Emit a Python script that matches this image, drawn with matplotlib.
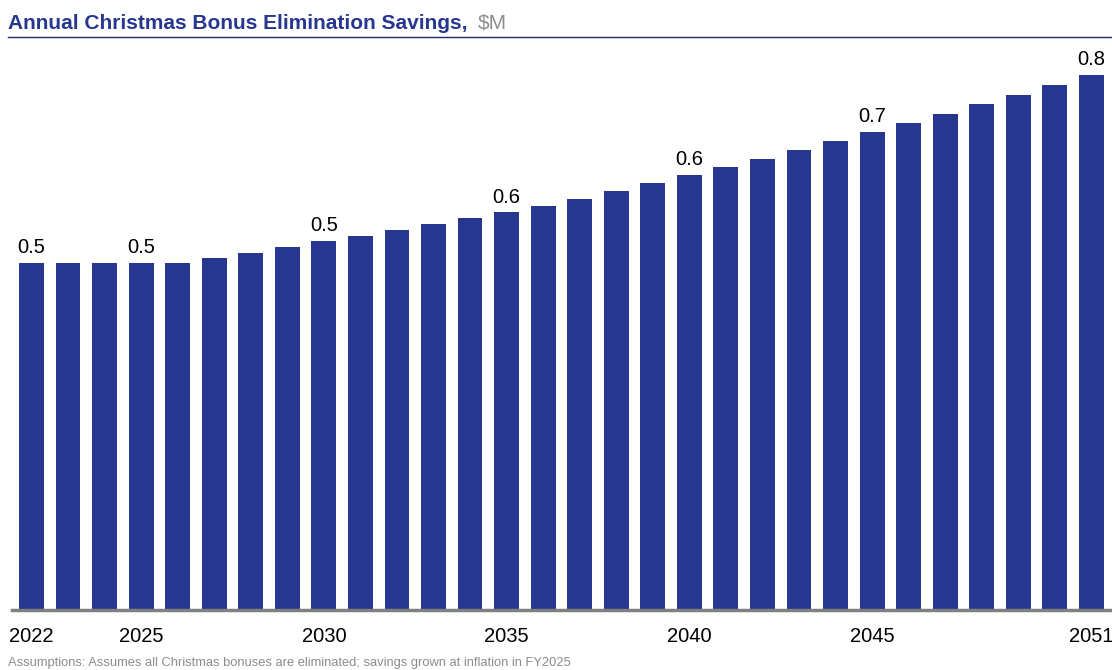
import numpy as np
import matplotlib
matplotlib.use('Agg')
import matplotlib.pyplot as plt
from matplotlib.lines import Line2D

plt.rcParams['font.family'] = ['Liberation Sans', 'DejaVu Sans']

years = list(range(2022, 2052))
savings = [0.500, 0.500, 0.500, 0.500, 0.500, 0.507, 0.514, 0.523, 0.532, 0.539,
           0.548, 0.556, 0.565, 0.573, 0.582, 0.592, 0.604, 0.615, 0.627, 0.638,
           0.650, 0.663, 0.676, 0.689, 0.702, 0.715, 0.729, 0.742, 0.756, 0.771]
label_years = [2022, 2025, 2030, 2035, 2040, 2045, 2051]

BLUE = '#27368F'

fig = plt.figure(figsize=(11.12, 6.70), dpi=100)
ax = fig.add_axes([12/1112, 60/670, 1098/1112, 565/670])

x = np.arange(len(years))
ax.bar(x, savings, width=0.68, color=BLUE, zorder=2)
ax.set_xlim(-0.534, 29.51)
ax.set_ylim(0, 565/694)

for yr in label_years:
    i = years.index(yr)
    ax.text(i, savings[i] + 0.008, "%.1f" % savings[i], ha='center', va='bottom',
            fontsize=14.5, color='black')

ax.set_xticks([years.index(y) for y in label_years])
ax.set_xticklabels([str(y) for y in label_years], fontsize=14.5)
ax.tick_params(axis='x', length=0, pad=12)
ax.set_yticks([])
for s in ['top', 'right', 'left']:
    ax.spines[s].set_visible(False)
ax.spines['bottom'].set_color('#808080')
ax.spines['bottom'].set_linewidth(2.5)
ax.spines['bottom'].set_zorder(3)

t = fig.text(8/1112, 1 - 29/670, "Annual Christmas Bonus Elimination Savings,", fontsize=15,
             fontweight='bold', color=BLUE, va='baseline', ha='left')
fig.text(478/1112, 1 - 29/670, "$M", fontsize=15, color='#8C8C8C', va='baseline', ha='left')
fig.add_artist(Line2D([8/1112, 1], [1 - 37/670, 1 - 37/670], color='#1F2A6B', linewidth=1))

fig.text(8/1112, 1 - 663/670, "Assumptions: Assumes all Christmas bonuses are eliminated; savings grown at inflation in FY2025",
         fontsize=9.3, color='#8C8C8C', va='center', ha='left')

plt.savefig('out.png', dpi=100)
